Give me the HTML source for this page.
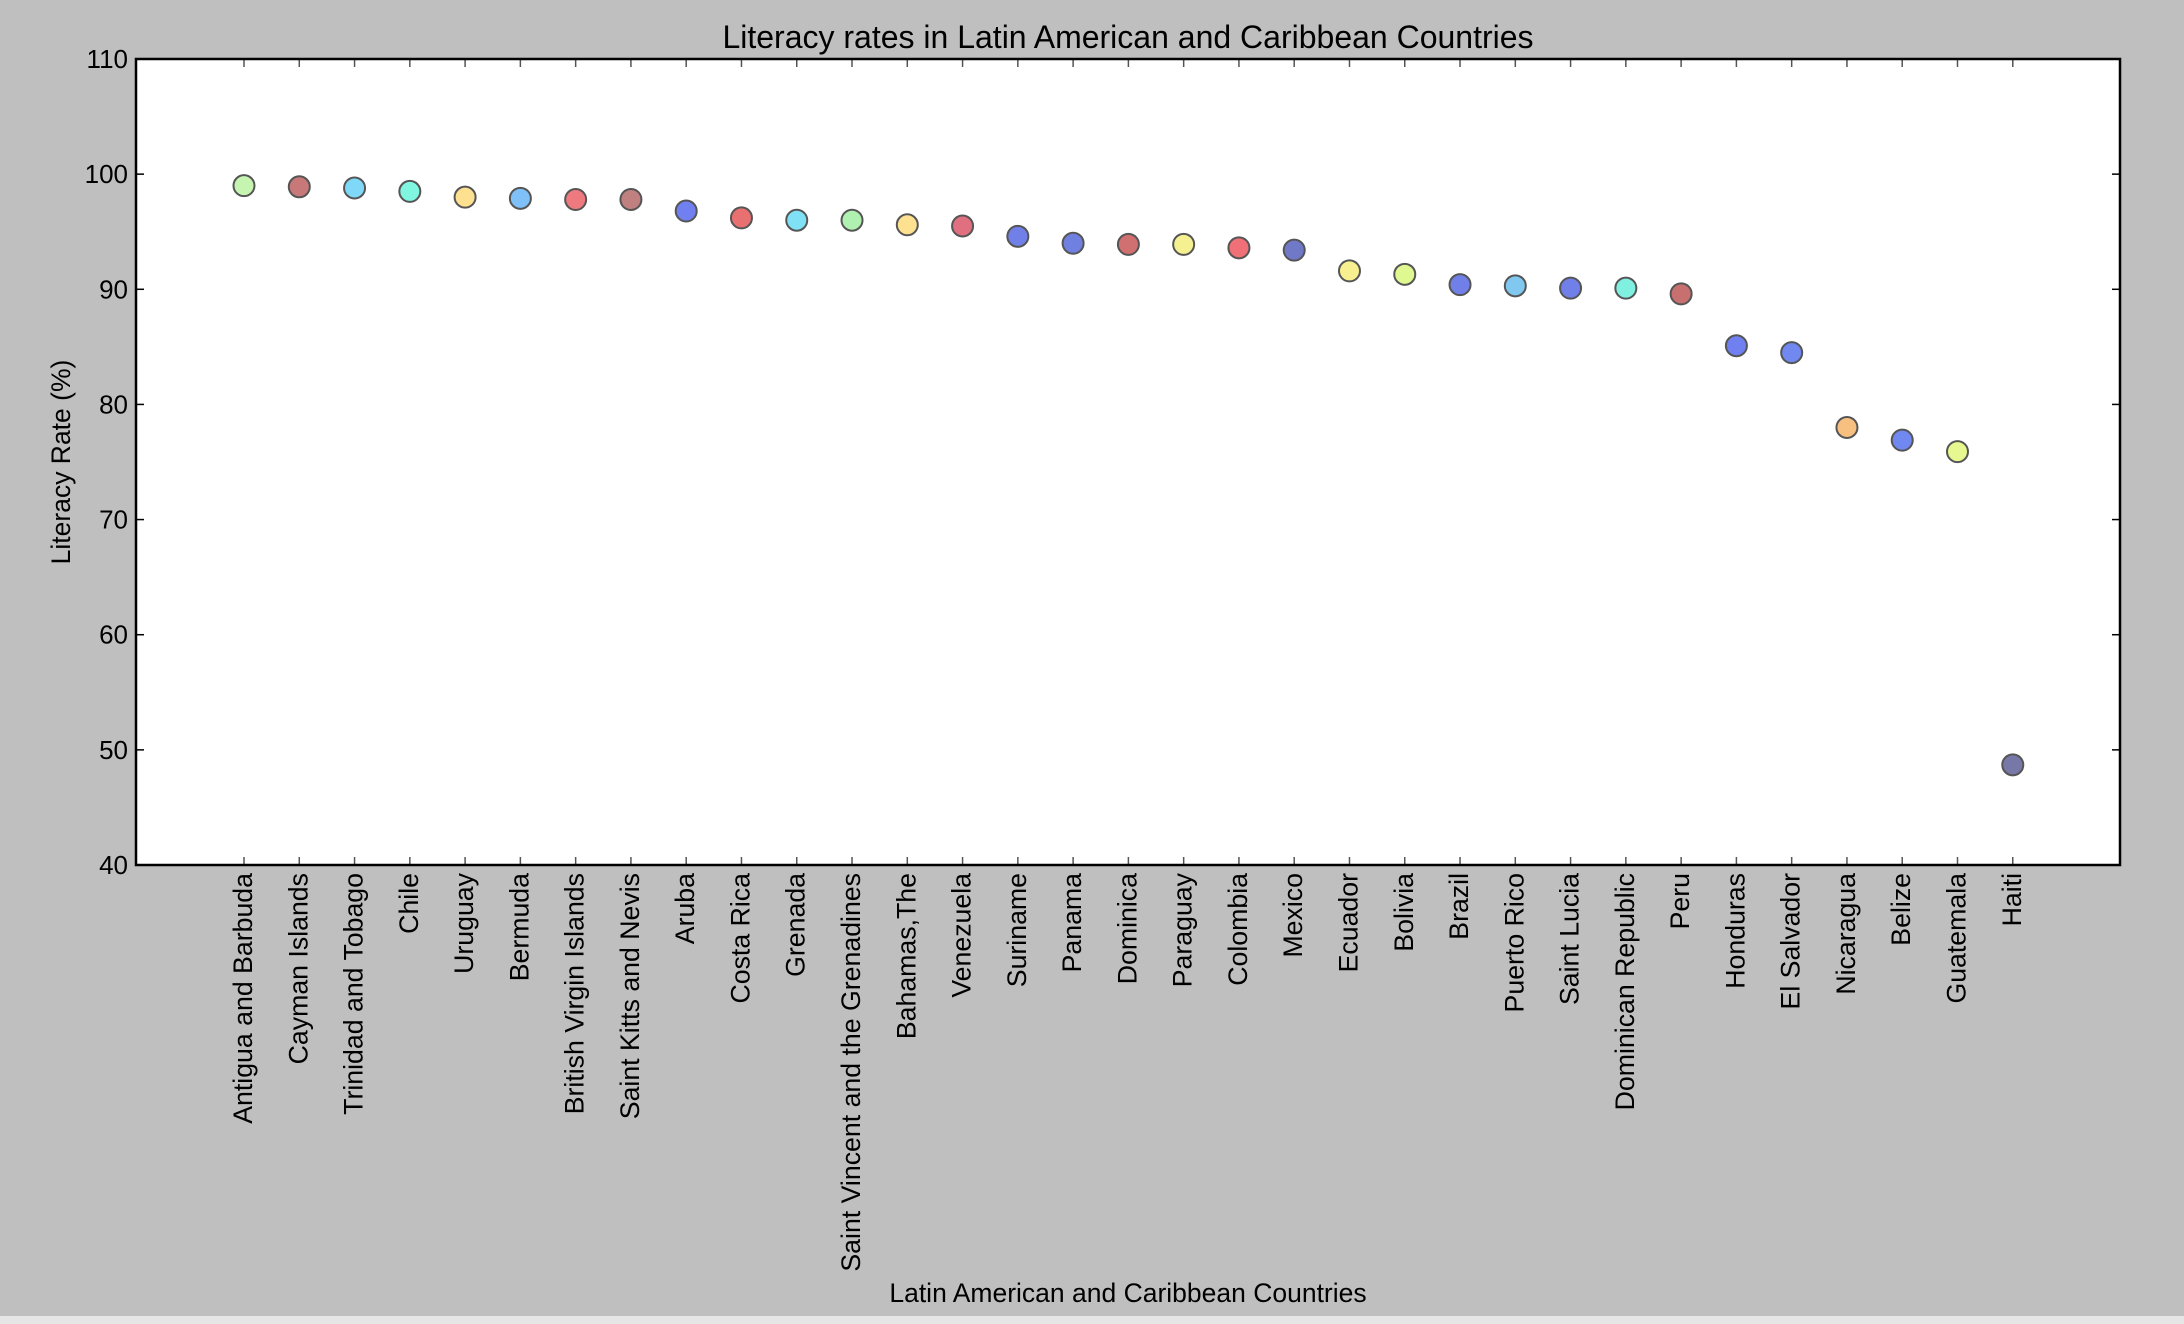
<!DOCTYPE html>
<html><head><meta charset="utf-8"><style>
html,body{margin:0;padding:0;background:#bfbfbf;}
svg{display:block;font-family:"Liberation Sans",Arial,sans-serif;}
</style></head><body>
<svg id="chart" width="2184" height="1324" viewBox="0 0 2184 1324" xmlns="http://www.w3.org/2000/svg">
<rect x="0" y="0" width="2184" height="1324" fill="#bfbfbf"/>
<rect x="0" y="1316" width="2184" height="8" fill="#e6e6e6"/>
<rect x="136" y="59" width="1984" height="806" fill="#ffffff"/>
<g id="grid"></g>
<g id="points"></g>
<rect x="136" y="59" width="1984" height="806" fill="none" stroke="#000" stroke-width="2.5"/>
<text x="1128" y="48" text-anchor="middle" font-size="32" fill="#000">Literacy rates in Latin American and Caribbean Countries</text>
<text x="1128" y="1302" text-anchor="middle" font-size="26.5" fill="#000">Latin American and Caribbean Countries</text>
<text x="0" y="0" transform="translate(70,462) rotate(-90)" text-anchor="middle" font-size="26.5" fill="#000">Literacy Rate (%)</text>
</svg>
<script>
const categories = ["Antigua and Barbuda","Cayman Islands","Trinidad and Tobago","Chile","Uruguay","Bermuda","British Virgin Islands","Saint Kitts and Nevis","Aruba","Costa Rica","Grenada","Saint Vincent and the Grenadines","Bahamas,The","Venezuela","Suriname","Panama","Dominica","Paraguay","Colombia","Mexico","Ecuador","Bolivia","Brazil","Puerto Rico","Saint Lucia","Dominican Republic","Peru","Honduras","El Salvador","Nicaragua","Belize","Guatemala","Haiti"];
const literacy = [99.0,98.9,98.8,98.5,98.0,97.9,97.8,97.8,96.8,96.2,96.0,96.0,95.6,95.5,94.6,94.0,93.9,93.9,93.6,93.4,91.6,91.3,90.4,90.3,90.1,90.1,89.6,85.1,84.5,78.0,76.9,75.9,48.7];
const colors = ["#c5f5b0","#c87878","#80d8f8","#80f5e0","#fde090","#80c0f8","#ee7a80","#c08080","#7080f0","#e87070","#80e0f5","#b0f0b0","#fde090","#e07080","#7080e8","#7080e0","#d07070","#f5f090","#f07078","#7078c8","#f8f090","#e0f890","#7080e8","#80c8f0","#7080e8","#80f0e0","#c87070","#7080f0","#7088f0","#f8c080","#7088f0","#e8f890","#7878a8"];
const yTicks = [40,50,60,70,80,90,100,110];

const L=136,R=2120,T=59,B=865;
const xMin=-1.954,xMax=33.94,yMin=40,yMax=110;
const xs=i=>L+(i-xMin)/(xMax-xMin)*(R-L);
const ys=v=>B-(v-yMin)/(yMax-yMin)*(B-T);
const NS="http://www.w3.org/2000/svg";
const svg=document.getElementById('chart');
const grid=document.getElementById('grid');
const pts=document.getElementById('points');
function mk(tag,attrs,parent){const e=document.createElementNS(NS,tag);for(const k in attrs)e.setAttribute(k,attrs[k]);parent.appendChild(e);return e;}

yTicks.forEach(v=>{
  const y=ys(v);
  const t1=mk('line',{x1:L,x2:L+8,y1:y,y2:y,stroke:'#000','stroke-width':1.5},grid);
  
  
  const t2=mk('line',{x1:R-8,x2:R,y1:y,y2:y,stroke:'#000','stroke-width':1.5},grid);
  
  
  const lb=mk('text',{x:L-8,y:y+9,'text-anchor':'end','font-size':26,fill:'#000'},svg);
  lb.textContent=v;
  
  
});

categories.forEach((c,i)=>{
  const x=xs(i);
  const tb=mk('line',{x1:x,x2:x,y1:B-8,y2:B,stroke:'#555','stroke-width':1.5},grid);
  
  
  const tt=mk('line',{x1:x,x2:x,y1:T,y2:T+8,stroke:'#555','stroke-width':1.5},grid);
  
  
  const lb=mk('text',{x:0,y:0,transform:`translate(${x+8},${B+8}) rotate(-90)`,'text-anchor':'end','font-size':26.7,fill:'#000'},svg);
  lb.textContent=c;
  
  
  const p=mk('circle',{cx:x,cy:ys(literacy[i]),r:10.5,fill:colors[i],stroke:'#555','stroke-width':2},pts);
  
  
});
</script>
</body></html>
